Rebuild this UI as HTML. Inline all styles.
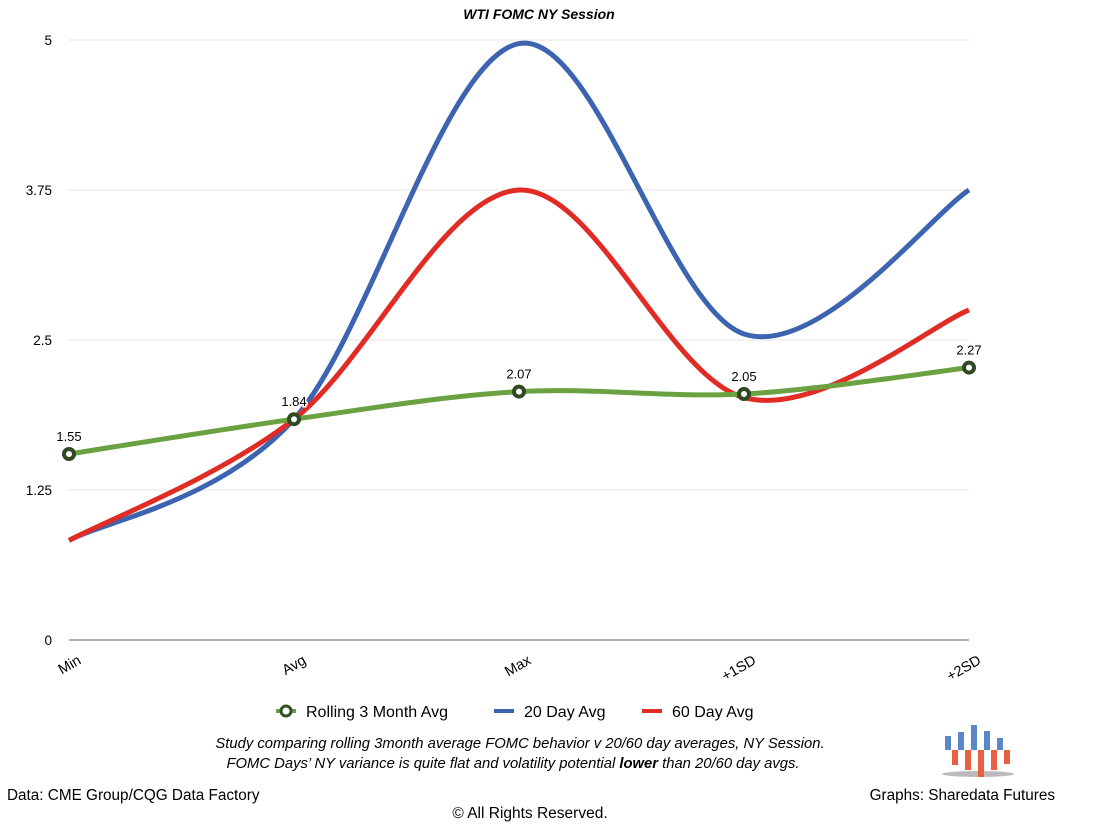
<!DOCTYPE html>
<html><head><meta charset="utf-8"><style>
body{margin:0;background:#fff;font-family:"Liberation Sans",sans-serif;}
svg text{font-family:"Liberation Sans",sans-serif;}
</style></head><body>
<svg id="chart" width="1101" height="832" viewBox="0 0 1101 832">
<text x="539" y="19" text-anchor="middle" font-size="14" font-weight="bold" font-style="italic">WTI FOMC NY Session</text>
<g id="grid"></g><g id="axes"></g><g id="series"></g><g id="marks"></g>
<g>
<g><line x1="276" y1="711" x2="296" y2="711" stroke="#6aa141" stroke-width="4"/><circle cx="286" cy="711" r="5" fill="#fff" stroke="#34522a" stroke-width="3"/><text x="306" y="717" font-size="16">Rolling 3 Month Avg</text></g>
<g><line x1="494" y1="711" x2="514" y2="711" stroke="#3d64b0" stroke-width="4"/><text x="524" y="717" font-size="16">20 Day Avg</text></g>
<g><line x1="642" y1="711" x2="662" y2="711" stroke="#e02c24" stroke-width="4"/><text x="672" y="717" font-size="16">60 Day Avg</text></g>
</g>
<text x="520" y="748" text-anchor="middle" font-size="14.8" font-style="italic">Study comparing rolling 3month average FOMC behavior v 20/60 day averages, NY Session.</text>
<text x="513" y="768" text-anchor="middle" font-size="14.8" font-style="italic">FOMC Days’ NY variance is quite flat and volatility potential <tspan font-weight="bold">lower</tspan> than 20/60 day avgs.</text>
<text x="7" y="800" font-size="15.3">Data: CME Group/CQG Data Factory</text>
<text x="1055" y="800" text-anchor="end" font-size="15.3">Graphs: Sharedata Futures</text>
<text x="530" y="818" text-anchor="middle" font-size="15.5">© All Rights Reserved.</text>
<g>
<ellipse cx="978" cy="774" rx="36" ry="3" fill="#bbb"/>
<rect x="945" y="736" width="6" height="14" fill="#5b86c8"/><rect x="958" y="732" width="6" height="18" fill="#5b86c8"/><rect x="971" y="725" width="6" height="25" fill="#5b86c8"/><rect x="984" y="731" width="6" height="19" fill="#5b86c8"/><rect x="997" y="738" width="6" height="12" fill="#5b86c8"/>
<rect x="952" y="750" width="6" height="15" fill="#e8603f"/><rect x="965" y="750" width="6" height="20" fill="#e8603f"/><rect x="978" y="750" width="6" height="27" fill="#e8603f"/><rect x="991" y="750" width="6" height="20" fill="#e8603f"/><rect x="1004" y="750" width="6" height="14" fill="#e8603f"/>
</g>
</svg>
<script>
const categories=["Min","Avg","Max","+1SD","+2SD"];
const rolling=[1.55,1.84,2.07,2.05,2.27];
const day20=[0.83,1.84,4.97,2.55,3.75];
const day60=[0.83,1.84,3.75,2.02,2.75];
const yTicks=[0,1.25,2.5,3.75,5];
const yLabels=["0","1.25","2.5","3.75","5"];
const NS="http://www.w3.org/2000/svg";
const X0=69,X1=969,Y0=640,Y1=40,YMAX=5;
const xs=i=>X0+i*(X1-X0)/(categories.length-1);
const ys=v=>Y0-v/YMAX*(Y0-Y1);
function mk(t,a,p){const e=document.createElementNS(NS,t);for(const k in a)e.setAttribute(k,a[k]);p.appendChild(e);return e;}
const grid=document.getElementById('grid'),axes=document.getElementById('axes'),ser=document.getElementById('series'),marks=document.getElementById('marks');
yTicks.forEach((v,i)=>{
 const l=mk('line',{x1:X0,x2:X1,y1:ys(v),y2:ys(v),stroke:v===0?'#666':'#e6e6e6','stroke-width':1},grid);
 
 
 const t=mk('text',{x:52,y:ys(v)+5,'text-anchor':'end','font-size':13.5},axes);t.textContent=yLabels[i];
 
 
});
categories.forEach((c,i)=>{
 const ax=xs(i)+13,ay=663;
 const t=mk('text',{x:ax,y:ay,'text-anchor':'end','font-size':14.5,transform:`rotate(-30 ${ax} ${ay})`},axes);t.textContent=c;
 
 
});
function path(vals){
 const P=vals.map((v,i)=>[xs(i),ys(v)]);
 let d=`M${P[0][0]},${P[0][1]}`;
 for(let i=0;i<P.length-1;i++){
  const p0=P[Math.max(i-1,0)],p1=P[i],p2=P[i+1],p3=P[Math.min(i+2,P.length-1)];
  const c1=[p1[0]+(p2[0]-p0[0])/6,p1[1]+(p2[1]-p0[1])/6],c2=[p2[0]-(p3[0]-p1[0])/6,p2[1]-(p3[1]-p1[1])/6];
  d+=`C${c1[0]},${c1[1]} ${c2[0]},${c2[1]} ${p2[0]},${p2[1]}`;
 }
 return d;
}
const s20=mk('path',{d:path(day20),fill:'none',stroke:'#3d64b0','stroke-width':5},ser);


const s60=mk('path',{d:path(day60),fill:'none',stroke:'#e02c24','stroke-width':5},ser);


const sr=mk('path',{d:path(rolling),fill:'none',stroke:'#6aa141','stroke-width':5},ser);


rolling.forEach((v,i)=>{
 const c=mk('circle',{cx:xs(i),cy:ys(v),r:5,fill:'#fff',stroke:'#2f4a23','stroke-width':4},marks);
 
 
 const t=mk('text',{x:xs(i),y:ys(v)-13,'text-anchor':'middle','font-size':13,stroke:'#fff','stroke-width':3,'paint-order':'stroke'},marks);t.textContent=v.toFixed(2);
 
 
});
</script>
</body></html>
